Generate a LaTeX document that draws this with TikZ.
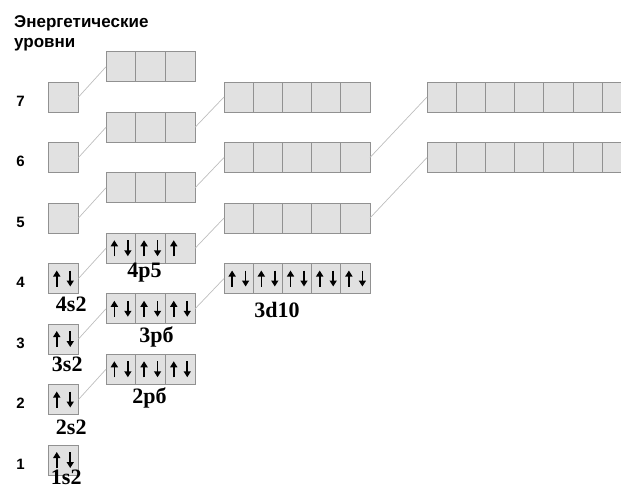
\documentclass[tikz,border=0pt]{standalone}
\usepackage{fontspec}
\setmainfont{Liberation Serif}
\setsansfont{Liberation Sans}
\usetikzlibrary{arrows.meta,positioning,calc}
\definecolor{cellfill}{RGB}{225,225,225}
\definecolor{celledge}{RGB}{145,145,145}
\definecolor{linkgray}{RGB}{190,190,190}

% one row of orbital cells: name, left x, top y, count, cell width
\newcommand\orbrow[5]{%
  \foreach \i in {1,...,#4}
    \node[cell, minimum width=#5pt] (#1-\i) at ({#2+(\i-0.5)*#5}, {#3+15}) {};}
\newcommand\eup[1]{\draw[spin] ([xshift=-6.5pt,yshift=-8pt]#1.center) -- ++(0,16pt);}
\newcommand\edown[1]{\draw[spin] ([xshift=7pt,yshift=8pt]#1.center) -- ++(0,-16pt);}
\newcommand\epair[1]{\eup{#1}\edown{#1}}

\begin{document}
\begin{tikzpicture}[x=1pt, y=-1pt,
  cell/.style={draw=celledge, fill=cellfill, line width=0.8pt, minimum height=30pt, inner sep=0pt, outer sep=0pt},
  link/.style={draw=linkgray, line width=0.7pt},
  spin/.style={-{Triangle[length=6pt,width=7pt]}, line width=1.6pt},
  lvl/.style={font=\sffamily\bfseries\fontsize{15}{17}\selectfont, inner sep=0pt},
  lbl/.style={font=\bfseries\fontsize{22}{24}\selectfont, inner sep=0pt},
  head/.style={font=\sffamily\bfseries\fontsize{17}{20}\selectfont, align=left, inner sep=0pt, anchor=north west}]
  \useasboundingbox (0,0) rectangle (621,488);
  \clip (0,0) rectangle (621,488);
  \node[head] (title) at (14,15) {Энергетические\\уровни};
  % cells of the subshells
  \foreach \n in {1,...,7} \orbrow{s\n}{48}{82+(7-\n)*60.5}{1}{30.5};
  \foreach \n in {2,...,7} \orbrow{p\n}{106}{51.75+(7-\n)*60.5}{3}{29.7};
  \foreach \n in {3,...,6} \orbrow{d\n}{224}{21.5+(7-\n)*60.5}{5}{29.2};
  \foreach \n in {4,5} \orbrow{f\n}{427}{-39+(7-\n)*60.5}{7}{29.2};
  % connectors
  \foreach \n in {2,...,7} \draw[link] (s\n-1.east) -- (p\n-1.west);
  \foreach \n in {3,...,6} \draw[link] (p\n-3.east) -- (d\n-1.west);
  \foreach \n in {4,5} \draw[link] (d\n-5.east) -- (f\n-1.west);
  % level numbers
  \foreach \n in {1,...,7} \node[lvl, left=23pt of s\n-1, yshift=-4pt] (n\n) {\n};
  % electrons
  \foreach \c in {s1-1,s2-1,s3-1,s4-1,p2-1,p2-2,p2-3,p3-1,p3-2,p3-3,p4-1,p4-2,d3-1,d3-2,d3-3,d3-4,d3-5}
    \epair{\c};
  \eup{p4-3}
  % labels
  \node[lbl, below=3pt of s4-1, xshift=8pt] (l4s) {4s2};
  \node[lbl, below=3pt of s3-1, xshift=4pt] (l3s) {3s2};
  \node[lbl, below=5pt of s2-1, xshift=8pt] (l2s) {2s2};
  \node[lbl, below=-5pt of s1-1, xshift=3pt] (l1s) {1s2};
  \node[lbl, below=0pt of p4-2, xshift=-6pt] (l4p) {4p5};
  \node[lbl, below=3pt of p3-2, xshift=6pt] (l3p) {3рб};
  \node[lbl, below=3pt of p2-2, xshift=-1pt] (l2p) {2рб};
  \node[lbl, below=9pt of d3-3, xshift=-20pt] (l3d) {3d10};
\end{tikzpicture}
\end{document}
